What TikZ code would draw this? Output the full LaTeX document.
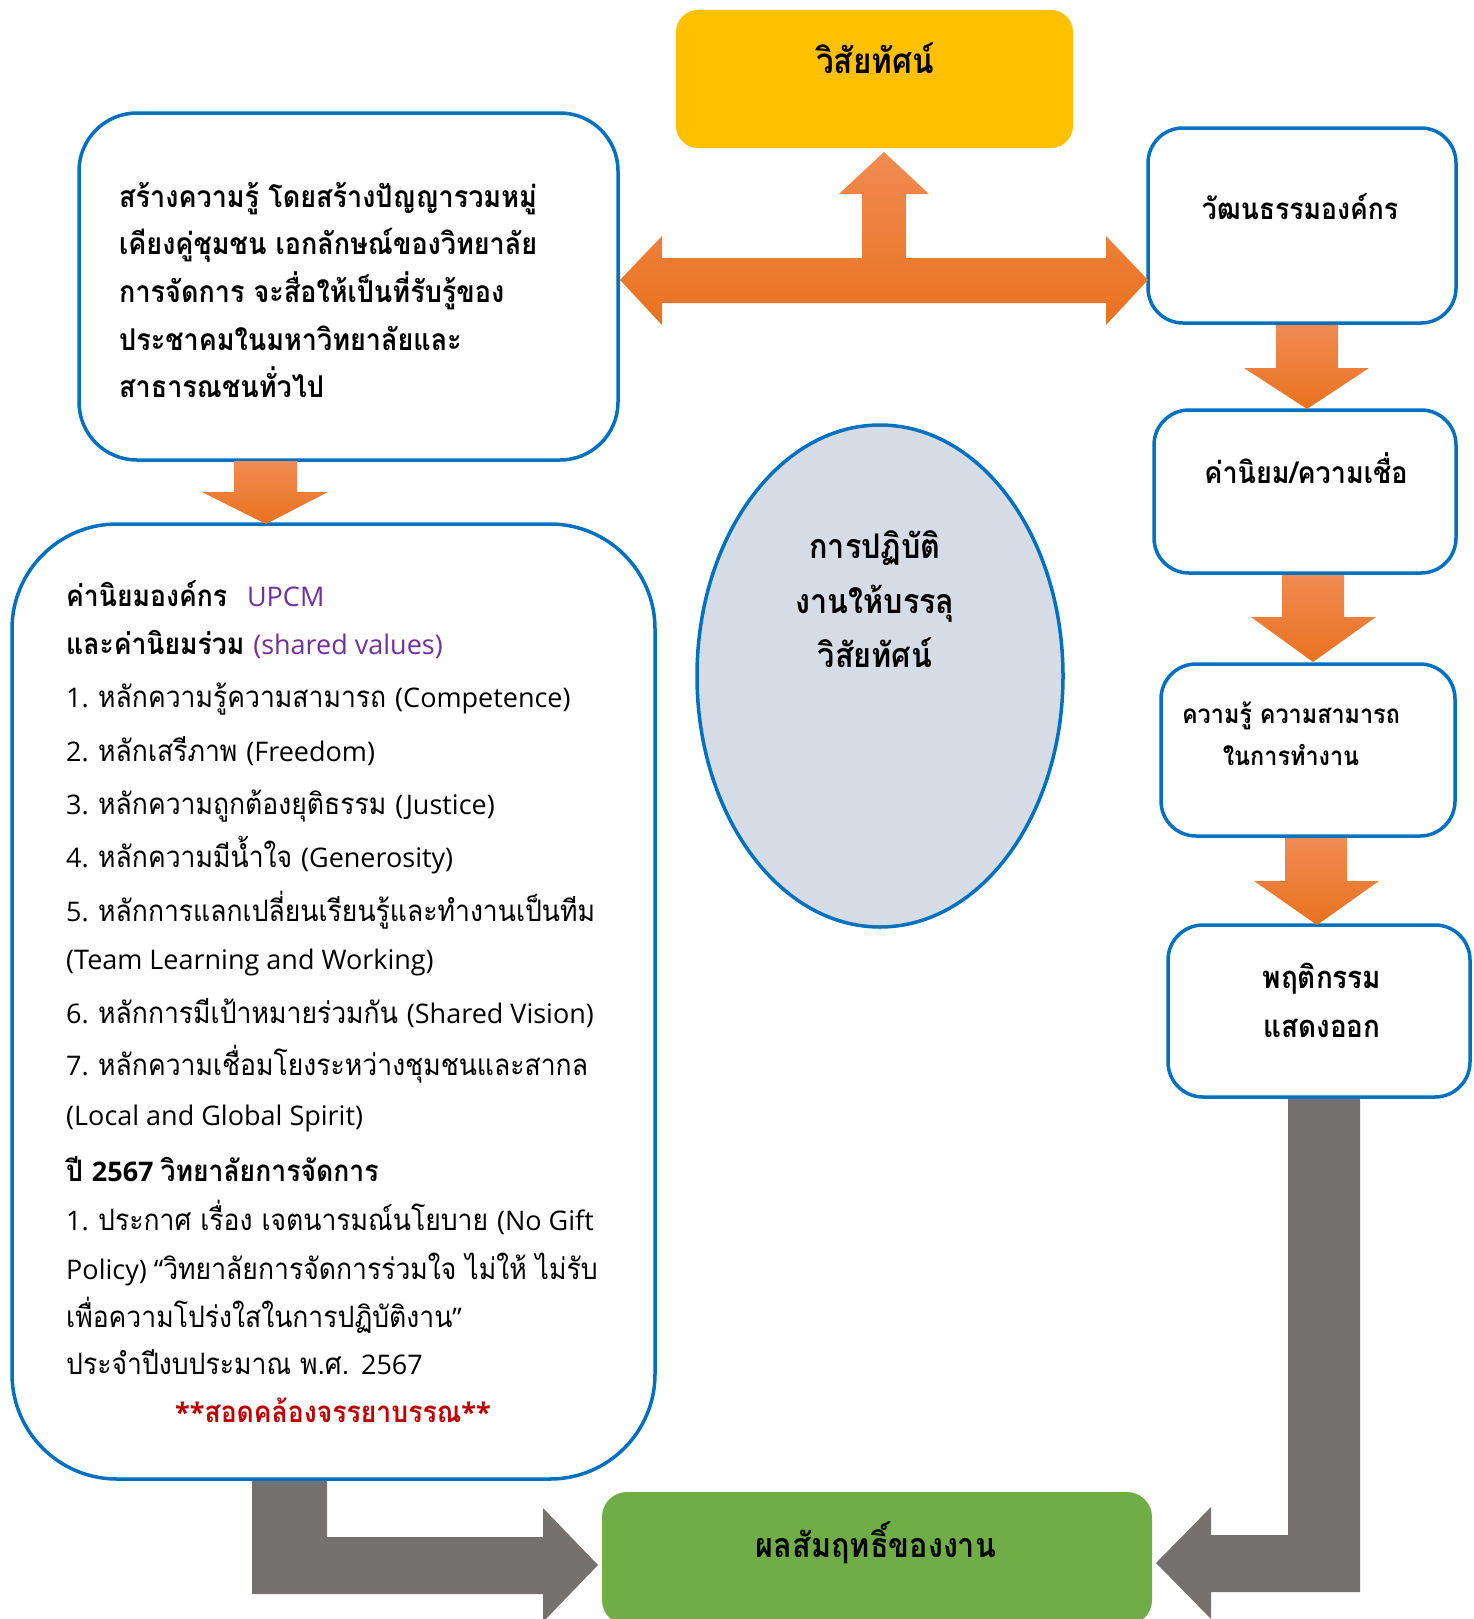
\documentclass[tikz,border=0pt]{standalone}
\usepackage{fontspec}
\setmainfont[Script=Thai, FakeStretch=0.9]{Loma}
\newfontfamily\enfont[Scale=0.915]{Open Sans}
\newcommand\en[1]{{\enfont #1}}
\usetikzlibrary{shapes.geometric}
\definecolor{bl}{HTML}{0070C0}
\definecolor{yel}{HTML}{FFC000}
\definecolor{grn}{HTML}{70AD47}
\definecolor{gry}{HTML}{767171}
\definecolor{ell}{HTML}{D6DCE5}
\definecolor{pu}{HTML}{7030A0}
\definecolor{rd}{HTML}{C00000}
\definecolor{orL}{HTML}{F08B52}
\definecolor{orD}{HTML}{E9721F}
\newcommand\fs[1]{\fontsize{#1}{#1}\selectfont}
\begin{document}
\begin{tikzpicture}[x=1pt,y=-1pt,
  bbox/.style={draw=bl, line width=3.5pt, fill=white, inner sep=0pt},
  hd/.style={anchor=base, inner sep=0pt, font=\fs{30}\bfseries},
  lst/.style={anchor=base west, inner sep=0pt, font=\fs{29.5}},
  lstb/.style={lst, font=\fs{29.5}\bfseries},
  orarrow/.style={top color=orL, bottom color=orD, draw=none},
  grarrow/.style={fill=gry, draw=none}]
\useasboundingbox (0,0) rectangle (1473,1619);

% boxes
\node[fill=yel, rounded corners=22pt, minimum width=397pt, minimum height=138pt, inner sep=0pt] (vis) at (874.5,79) {};
\node[bbox, rounded corners=58pt, minimum width=539pt, minimum height=347pt] (b1) at (348.5,286.5) {};
\node[bbox, rounded corners=105pt, minimum width=643pt, minimum height=955pt] (b2) at (333.5,1001.5) {};
\node[bbox, rounded corners=35pt, minimum width=308pt, minimum height=195pt] (r1) at (1302,225.5) {};
\node[bbox, rounded corners=35pt, minimum width=302pt, minimum height=163pt] (r2) at (1305,491.5) {};
\node[bbox, rounded corners=35pt, minimum width=294pt, minimum height=172pt] (r3) at (1308,750) {};
\node[bbox, rounded corners=35pt, minimum width=302pt, minimum height=172pt] (r4) at (1319,1011) {};
\node[fill=grn, rounded corners=25pt, minimum width=550pt, minimum height=133pt, inner sep=0pt] (res) at (877,1558.5) {};
\node[ellipse, draw=bl, line width=3.5pt, fill=ell, minimum width=366pt, minimum height=502pt, inner sep=0pt] (el) at (880,676) {};

% orange block arrows
\shade[orarrow] (884,152) -- (929,194) -- (906,194) -- (906,258) -- (1106,258) -- (1106,236) -- (1148,280) -- (1106,325) -- (1106,303) -- (662,303) -- (662,325) -- (620,280) -- (662,236) -- (662,258) -- (862,258) -- (862,194) -- (839,194) -- cycle;
\shade[orarrow] (234,461) -- (297,461) -- (297,492) -- (328,492) -- (266,524) -- (202,492) -- (234,492) -- cycle;
\shade[orarrow] (1276,325) -- (1338,325) -- (1338,368) -- (1369,368) -- (1307,409) -- (1244,368) -- (1276,368) -- cycle;
\shade[orarrow] (1282,575) -- (1344,575) -- (1344,617) -- (1376,617) -- (1313,662) -- (1251,617) -- (1282,617) -- cycle;
\shade[orarrow] (1285,838) -- (1347,838) -- (1347,881) -- (1379,881) -- (1317,925) -- (1254,881) -- (1285,881) -- cycle;

% gray block arrows
\fill[grarrow] (252,1481) -- (327,1481) -- (327,1537) -- (543,1537) -- (543,1508) -- (598,1565) -- (543,1622) -- (543,1594) -- (252,1594) -- cycle;
\fill[grarrow] (1288,1099) -- (1360,1099) -- (1360,1592) -- (1211,1592) -- (1211,1619) -- (1156,1563) -- (1211,1507) -- (1211,1535) -- (1288,1535) -- cycle;

% texts
\node[hd, font=\fs{35}\bfseries] (tvis) at (875,74) {วิสัยทัศน์};
\node[hd, anchor=base west] (t1a) at (119,207) {สร้างความรู้ โดยสร้างปัญญารวมหมู่};
\node[hd, anchor=base west] (t1b) at (119,254.7) {เคียงคู่ชุมชน เอกลักษณ์ของวิทยาลัย};
\node[hd, anchor=base west] (t1c) at (119,302) {การจัดการ จะสื่อให้เป็นที่รับรู้ของ};
\node[hd, anchor=base west] (t1d) at (119,350) {ประชาคมในมหาวิทยาลัยและ};
\node[hd, anchor=base west] (t1e) at (119,397) {สาธารณชนทั่วไป};

\node[lstb] (l1) at (66,606) {ค่านิยมองค์กร\hspace{20pt}\textcolor{pu}{\mdseries\en{UPCM}}};
\node[lstb] (l2) at (66,654) {และค่านิยมร่วม \textcolor{pu}{\mdseries\en{(shared values)}}};
\node[lst] (l3) at (66,707) {\en{1. }หลักความรู้ความสามารถ \en{(Competence)}};
\node[lst] (l4) at (66,761) {\en{2. }หลักเสรีภาพ \en{(Freedom)}};
\node[lst] (l5) at (66,814) {\en{3. }หลักความถูกต้องยุติธรรม \en{(Justice)}};
\node[lst] (l6) at (66,867) {\en{4. }หลักความมีน้ำใจ \en{(Generosity)}};
\node[lst] (l7) at (66,921) {\en{5. }หลักการแลกเปลี่ยนเรียนรู้และทำงานเป็นทีม};
\node[lst] (l8) at (66,969) {\en{(Team Learning and Working)}};
\node[lst] (l9) at (66,1023) {\en{6. }หลักการมีเป้าหมายร่วมกัน \en{(Shared Vision)}};
\node[lst] (l10) at (66,1075) {\en{7. }หลักความเชื่อมโยงระหว่างชุมชนและสากล};
\node[lst] (l11) at (66,1125) {\en{(Local and Global Spirit)}};
\node[lstb] (l12) at (66,1181) {ปี \en{2567 }วิทยาลัยการจัดการ};
\node[lst] (l13) at (66,1230) {\en{1. }ประกาศ เรื่อง เจตนารมณ์นโยบาย \en{(No Gift}};
\node[lst] (l14) at (66,1279) {\en{Policy) “}วิทยาลัยการจัดการร่วมใจ ไม่ให้ ไม่รับ};
\node[lst] (l15) at (66,1327) {เพื่อความโปร่งใสในการปฏิบัติงาน\en{”}};
\node[lst] (l16) at (66,1374) {ประจำปีงบประมาณ พ.ศ. \en{2567}};
\node[hd, text=rd, font=\fs{29.5}\bfseries] (l17) at (333,1422) {\en{**}สอดคล้องจรรยาบรรณ\en{**}};

\node[hd, font=\fs{34}\bfseries] (te1) at (875,558) {การปฏิบัติ};
\node[hd, font=\fs{34}\bfseries] (te2) at (875,613) {งานให้บรรลุ};
\node[hd, font=\fs{34}\bfseries] (te3) at (875,667) {วิสัยทัศน์};

\node[hd, font=\fs{29.5}\bfseries] (tr1) at (1300,219) {วัฒนธรรมองค์กร};
\node[hd] (tr2) at (1306,483) {ค่านิยม/ความเชื่อ};
\node[hd, font=\fs{26}\bfseries] (tr3a) at (1291,723) {ความรู้ ความสามารถ};
\node[hd, font=\fs{26}\bfseries] (tr3b) at (1291,765) {ในการทำงาน};
\node[hd, font=\fs{31}\bfseries] (tr4a) at (1322,988) {พฤติกรรม};
\node[hd, font=\fs{31}\bfseries] (tr4b) at (1322,1037) {แสดงออก};
\node[hd, font=\fs{34}\bfseries] (tres) at (876,1557) {ผลสัมฤทธิ์ของงาน};
\end{tikzpicture}
\end{document}
